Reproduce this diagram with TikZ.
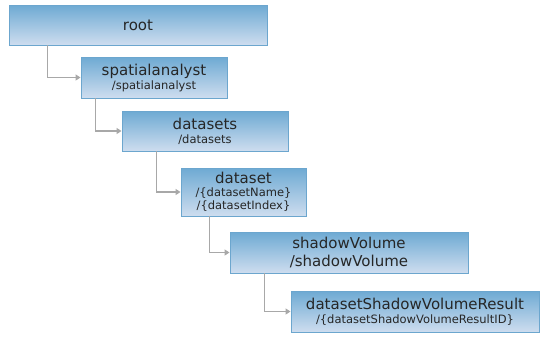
\documentclass[tikz,border=0pt]{standalone}
\usepackage{fontspec}
\setmainfont{DejaVu Sans}
\usetikzlibrary{arrows.meta}

\definecolor{boxtop}{RGB}{110,170,211}
\definecolor{boxbottom}{RGB}{206,221,239}
\definecolor{boxline}{RGB}{108,166,206}
\definecolor{linkgray}{RGB}{168,168,168}

\newcommand{\maintxt}{\fontsize{15}{17}\selectfont}
\newcommand{\subtxt}{\fontsize{11.5}{13}\selectfont}

\begin{document}
\begin{tikzpicture}[
    x=1pt, y=-1pt,
    resource/.style={
        rectangle, draw=boxline, line width=0.9pt,
        top color=boxtop, bottom color=boxbottom,
        minimum height=40pt, inner sep=0pt,
        align=center, text=black!85, font=\maintxt
    },
    link/.style={
        draw=linkgray, line width=1.5pt,
        -{Triangle[length=5pt,width=6pt]}
    }
]
\useasboundingbox (0,0) rectangle (540,360);

\node[resource, minimum width=258pt]                      (root)    at (138,  25)   {root};
\node[resource, minimum width=146pt, minimum height=41pt] (spatial) at (154,  77.5) {spatialanalyst\\[-3pt]{\subtxt /spatialanalyst}};
\node[resource, minimum width=166pt]                      (sets)    at (205, 131)   {datasets\\[-3pt]{\subtxt /datasets}};
\node[resource, minimum width=125pt, minimum height=48pt] (set)     at (243.5, 192) {dataset\\[-4pt]{\subtxt /\{datasetName\}}\\[-4pt]{\subtxt /\{datasetIndex\}}};
\node[resource, minimum width=238pt, minimum height=41pt] (shadow)  at (349, 252.5) {shadowVolume\\[1pt]/shadowVolume};
\node[resource, minimum width=248pt, minimum height=41pt] (result)  at (415, 311.5) {datasetShadowVolumeResult\\[-3pt]{\subtxt /\{datasetShadowVolumeResultID\}}};

\draw[link] ([xshift=39pt]root.south west)    |- (spatial.west);
\draw[link] ([xshift=15pt]spatial.south west) |- (sets.west);
\draw[link] ([xshift=35pt]sets.south west)    |- (set.west);
\draw[link] ([xshift=29pt]set.south west)     |- (shadow.west);
\draw[link] ([xshift=35pt]shadow.south west)  |- (result.west);

\end{tikzpicture}
\end{document}
